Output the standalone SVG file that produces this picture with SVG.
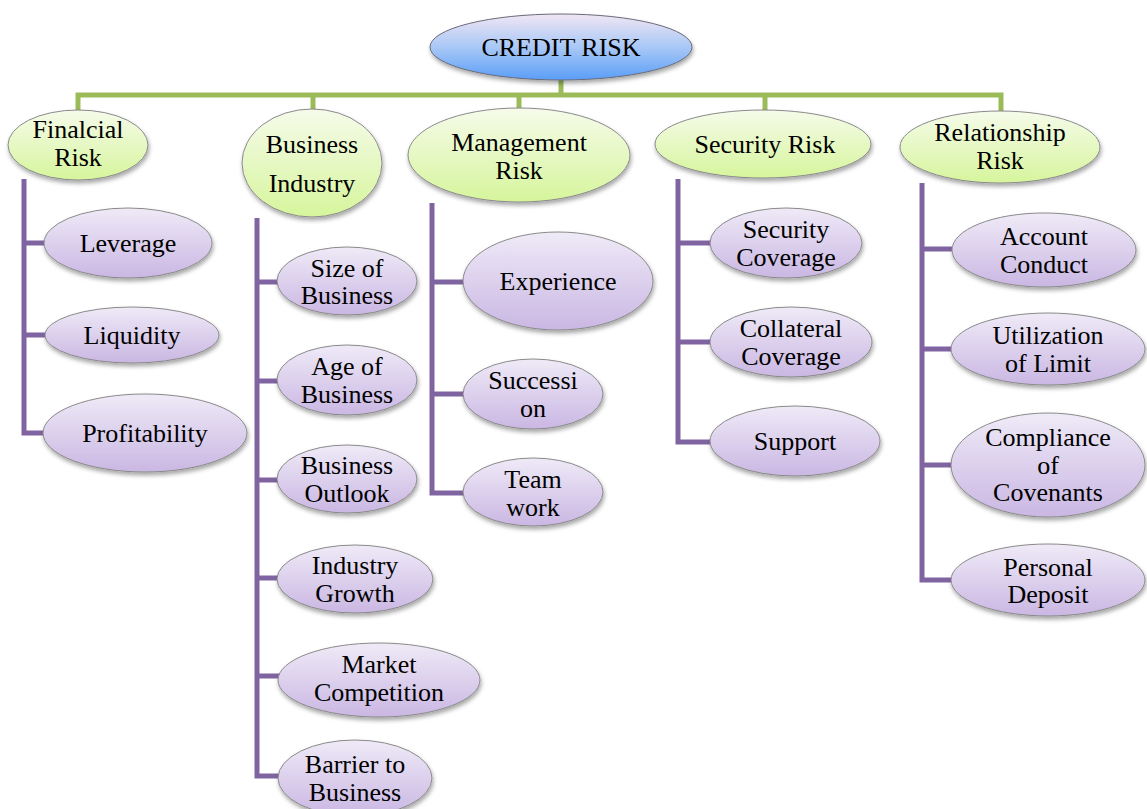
<svg xmlns="http://www.w3.org/2000/svg" width="1147" height="809" viewBox="0 0 1147 809">
<style>
text{font-family:"Liberation Serif","Times New Roman",serif;font-size:26px;fill:#000;text-anchor:middle}
.g{fill:url(#gGreen);stroke:#8a8a8a;stroke-width:1;filter:url(#sh)}
.p{fill:url(#gPurple);stroke:#8a8a8a;stroke-width:1;filter:url(#sh)}
.r{fill:url(#gRoot);stroke:#6a6a7a;stroke-width:1;filter:url(#sh)}
.lg{fill:none;stroke:#9bbb59;stroke-width:5}
.lp{fill:none;stroke:#8064a2;stroke-width:5}
</style>
<defs>
<linearGradient id="gGreen" x1="0" y1="0" x2="0" y2="1"><stop offset="0" stop-color="#f6fbea"/><stop offset="1" stop-color="#d6f59c"/></linearGradient>
<linearGradient id="gPurple" x1="0" y1="0" x2="0" y2="1"><stop offset="0" stop-color="#efeaf7"/><stop offset="1" stop-color="#cab7e3"/></linearGradient>
<linearGradient id="gRoot" x1="0" y1="0" x2="0" y2="1"><stop offset="0" stop-color="#f1e6f4"/><stop offset="0.5" stop-color="#a9c8f6"/><stop offset="1" stop-color="#5a9ef7"/></linearGradient>
<filter id="sh" x="-20%" y="-20%" width="140%" height="150%"><feDropShadow dx="1" dy="3" stdDeviation="2" flood-color="#000" flood-opacity="0.35"/></filter>
</defs>
<g id="connectors">
<path class="lg" d="M561 78V95"/>
<path class="lg" d="M78 112V95H1001V112"/>
<path class="lg" d="M313 95V110M519 95V110M765 95V112"/>
<path class="lp" d="M24 179V433H46M24 243H46M24 335H46"/>
<path class="lp" d="M257 218V776H280M257 282H279M257 381H279M257 480H279M257 578H280M257 676H280"/>
<path class="lp" d="M432 203V493H465M432 282H465M432 394H465"/>
<path class="lp" d="M678 179V442H712M678 243H712M678 342H712"/>
<path class="lp" d="M922 183V580H952M922 249H952M922 349H952M922 465H952"/>
</g>
<g id="credit-risk"><ellipse class="r" cx="561" cy="47" rx="131" ry="33"/><text x="561" y="56" style="font-size:26px">CREDIT RISK</text></g>
<g id="financial-risk"><ellipse class="g" cx="78" cy="145" rx="70" ry="35"/><text x="78" y="138">Finalcial</text><text x="78" y="166">Risk</text></g>
<g id="business-industry"><ellipse class="g" cx="312" cy="163" rx="70" ry="54"/><text x="312" y="153">Business</text><text x="312" y="192">Industry</text></g>
<g id="management-risk"><ellipse class="g" cx="519" cy="155" rx="111" ry="47"/><text x="519" y="151">Management</text><text x="519" y="179">Risk</text></g>
<g id="security-risk"><ellipse class="g" cx="763" cy="144" rx="108" ry="34"/><text x="765" y="153">Security Risk</text></g>
<g id="relationship-risk"><ellipse class="g" cx="1000" cy="147" rx="100" ry="36"/><text x="1000" y="141">Relationship</text><text x="1000" y="169">Risk</text></g>
<g id="leverage"><ellipse class="p" cx="128" cy="243" rx="84" ry="35"/><text x="128" y="252">Leverage</text></g>
<g id="liquidity"><ellipse class="p" cx="132" cy="335" rx="87" ry="28"/><text x="132" y="344">Liquidity</text></g>
<g id="profitability"><ellipse class="p" cx="145" cy="433" rx="102" ry="39"/><text x="145" y="442">Profitability</text></g>
<g id="size-of-business"><ellipse class="p" cx="347" cy="281" rx="70" ry="34"/><text x="347" y="277">Size of</text><text x="347" y="304">Business</text></g>
<g id="age-of-business"><ellipse class="p" cx="347" cy="380" rx="70" ry="35"/><text x="347" y="375">Age of</text><text x="347" y="403">Business</text></g>
<g id="business-outlook"><ellipse class="p" cx="347" cy="479" rx="70" ry="34"/><text x="347" y="474">Business</text><text x="347" y="502">Outlook</text></g>
<g id="industry-growth"><ellipse class="p" cx="355" cy="579" rx="78" ry="34"/><text x="355" y="574">Industry</text><text x="355" y="602">Growth</text></g>
<g id="market-competition"><ellipse class="p" cx="379" cy="680" rx="101" ry="37"/><text x="379" y="673">Market</text><text x="379" y="701">Competition</text></g>
<g id="barrier-to-business"><ellipse class="p" cx="355" cy="778" rx="77" ry="38"/><text x="355" y="773">Barrier to</text><text x="355" y="801">Business</text></g>
<g id="experience"><ellipse class="p" cx="558" cy="281" rx="95" ry="49"/><text x="558" y="290">Experience</text></g>
<g id="succession"><ellipse class="p" cx="533" cy="394" rx="70" ry="35"/><text x="533" y="389">Successi</text><text x="533" y="417">on</text></g>
<g id="team-work"><ellipse class="p" cx="533" cy="492" rx="70" ry="34"/><text x="533" y="488">Team</text><text x="533" y="516">work</text></g>
<g id="security-coverage"><ellipse class="p" cx="786" cy="243" rx="76" ry="35"/><text x="786" y="238">Security</text><text x="786" y="266">Coverage</text></g>
<g id="collateral-coverage"><ellipse class="p" cx="791" cy="342" rx="81" ry="35"/><text x="791" y="337">Collateral</text><text x="791" y="365">Coverage</text></g>
<g id="support"><ellipse class="p" cx="795" cy="441" rx="85" ry="35"/><text x="795" y="450">Support</text></g>
<g id="account-conduct"><ellipse class="p" cx="1044" cy="250" rx="92" ry="37"/><text x="1044" y="245">Account</text><text x="1044" y="273">Conduct</text></g>
<g id="utilization-of-limit"><ellipse class="p" cx="1048" cy="349" rx="97" ry="36"/><text x="1048" y="344">Utilization</text><text x="1048" y="372">of Limit</text></g>
<g id="compliance-of-covenants"><ellipse class="p" cx="1048" cy="465" rx="97" ry="52"/><text x="1048" y="446">Compliance</text><text x="1048" y="474">of</text><text x="1048" y="501">Covenants</text></g>
<g id="personal-deposit"><ellipse class="p" cx="1048" cy="580" rx="97" ry="36"/><text x="1048" y="576">Personal</text><text x="1048" y="603">Deposit</text></g>
</svg>
